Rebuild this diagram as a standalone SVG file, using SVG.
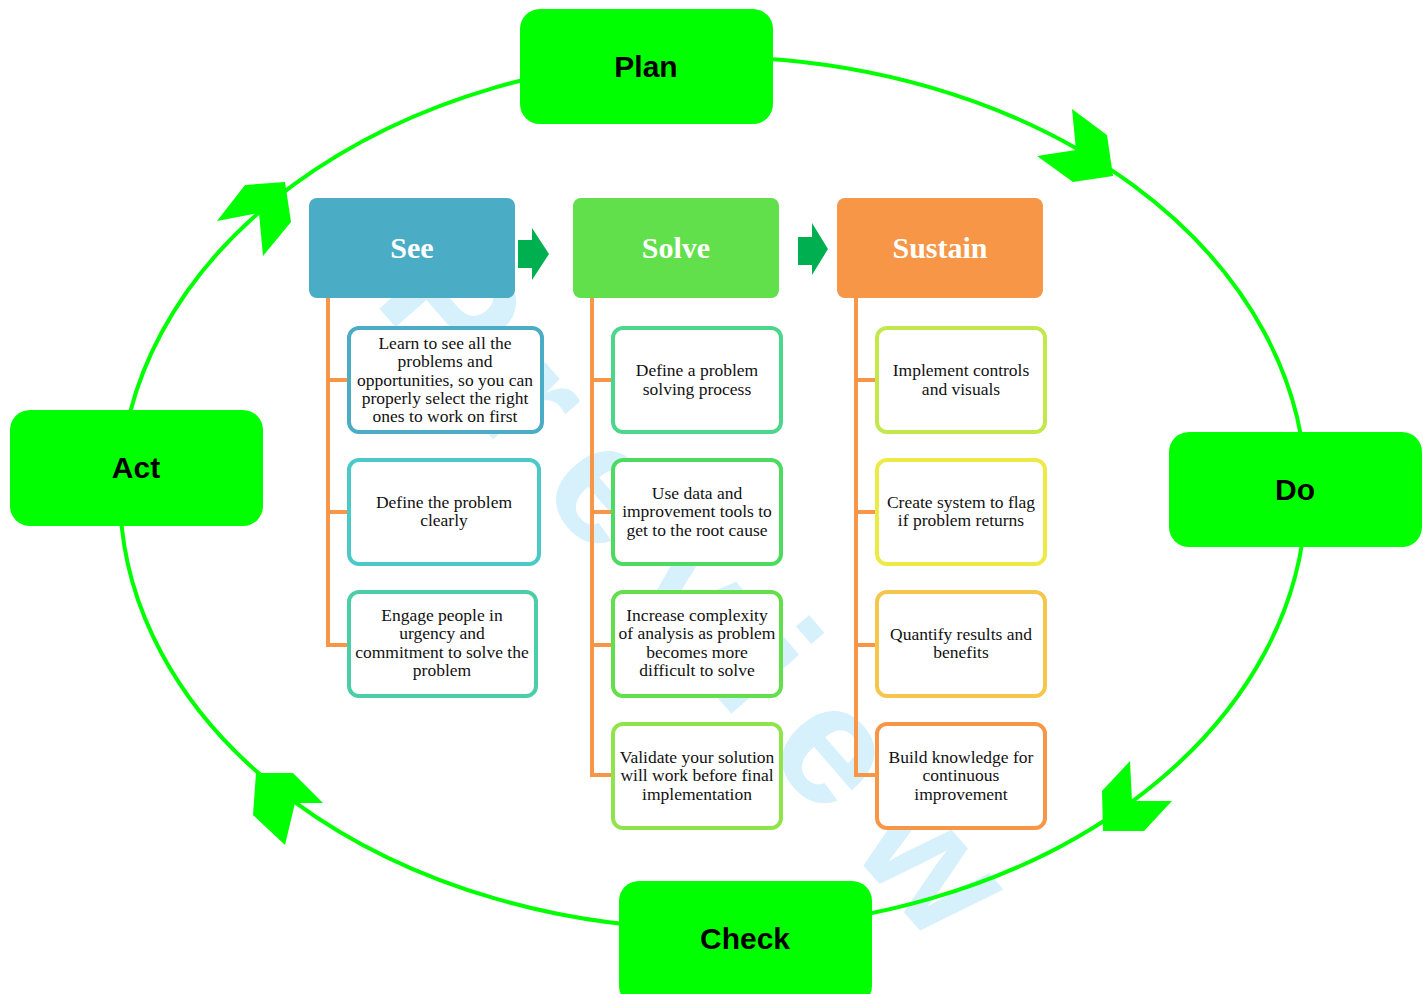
<svg xmlns="http://www.w3.org/2000/svg" width="1423" height="994" viewBox="0 0 1423 994">
<style>
.pdca{fill:#00FF00}
.pdcat{font-family:"Liberation Sans",Arial,sans-serif;font-weight:bold;font-size:30px;fill:#000;text-anchor:middle}
.hdt{font-family:"Liberation Serif","Times New Roman",serif;font-weight:bold;font-size:30px;fill:#fff;text-anchor:middle}
.box{fill:#fff;stroke-width:4}
.bt{font-family:"Liberation Serif","Times New Roman",serif;font-size:17.5px;fill:#111;text-anchor:middle}
.org{stroke:#F79646;stroke-width:4;fill:none}
.cyc{fill:none;stroke:#00FF00;stroke-width:4}
.ah{fill:#00FF00}
.ga{fill:#00B050}
.wm{font-family:"Liberation Sans",Arial,sans-serif;font-weight:bold;font-size:170px;fill:#D6F0FC}
</style>
<rect width="1423" height="994" fill="#fff"/>
<text class="wm" transform="translate(372,300) rotate(49)" letter-spacing="36">Preview</text>
<g id="connectors">
<ellipse class="cyc" cx="713" cy="493" rx="593" ry="436"/>
<polygon class="ah" points="1072,109 1107,135 1113,176 1073,182 1037,156 1076,150"/>
<polygon class="ah" points="245,185 285,182 291,222 263,256 259,213 217,221"/>
<polygon class="ah" points="256,773 293,773 323,803 295,803 285,845 253,815"/>
<polygon class="ah" points="1130,761 1102,791 1103,831 1144,831 1172,801 1132,801"/>
<polygon class="ga" points="518,240 532,240 532,228 549,254 532,280 532,268 518,268"/>
<polygon class="ga" points="798,237 812,237 812,223 828,249 812,275 812,265 798,265"/>
<path class="org" d="M328,298 V645 M326,380 H350 M326,512 H350 M326,645 H350"/>
<path class="org" d="M592,298 V777 M590,380 H614 M590,512 H614 M590,645 H614 M590,775 H614"/>
<path class="org" d="M856,298 V777 M854,380 H878 M854,512 H878 M854,645 H878 M854,775 H878"/>
</g>
<g id="plan"><rect class="pdca" x="520" y="9" width="253" height="115" rx="20"/><text class="pdcat" x="646" y="77">Plan</text></g>
<g id="do"><rect class="pdca" x="1169" y="432" width="253" height="115" rx="20"/><text class="pdcat" x="1295" y="500">Do</text></g>
<g id="check"><rect class="pdca" x="619" y="881" width="253" height="125" rx="20"/><text class="pdcat" x="745" y="949">Check</text></g>
<g id="act"><rect class="pdca" x="10" y="410" width="253" height="116" rx="20"/><text class="pdcat" x="136" y="478">Act</text></g>
<g id="see"><rect x="309" y="198" width="206" height="100" rx="8" fill="#4BACC6"/><text class="hdt" x="412" y="258">See</text></g>
<g id="solve"><rect x="573" y="198" width="206" height="100" rx="8" fill="#62E04B"/><text class="hdt" x="676" y="258">Solve</text></g>
<g id="sustain"><rect x="837" y="198" width="206" height="100" rx="8" fill="#F79646"/><text class="hdt" x="940" y="258">Sustain</text></g>
<g id="see1"><rect class="box" x="349" y="328" width="193" height="104" rx="10" stroke="#4BACC6"/>
<text class="bt"><tspan x="445" y="349">Learn to see all the</tspan><tspan x="445" y="367">problems and</tspan><tspan x="445" y="386">opportunities, so you can</tspan><tspan x="445" y="404">properly select the right</tspan><tspan x="445" y="422">ones to work on first</tspan></text></g>
<g id="see2"><rect class="box" x="349" y="460" width="190" height="104" rx="10" stroke="#4BC8C8"/>
<text class="bt"><tspan x="444" y="508">Define the problem</tspan><tspan x="444" y="526">clearly</tspan></text></g>
<g id="see3"><rect class="box" x="349" y="592" width="187" height="104" rx="10" stroke="#4BCDA8"/>
<text class="bt"><tspan x="442" y="621">Engage people in</tspan><tspan x="442" y="639">urgency and</tspan><tspan x="442" y="658">commitment to solve the</tspan><tspan x="442" y="676">problem</tspan></text></g>
<g id="solve1"><rect class="box" x="613" y="328" width="168" height="104" rx="10" stroke="#4CD68C"/>
<text class="bt"><tspan x="697" y="376">Define a problem</tspan><tspan x="697" y="395">solving process</tspan></text></g>
<g id="solve2"><rect class="box" x="613" y="460" width="168" height="104" rx="10" stroke="#4CDA60"/>
<text class="bt"><tspan x="697" y="499">Use data and</tspan><tspan x="697" y="517">improvement tools to</tspan><tspan x="697" y="536">get to the root cause</tspan></text></g>
<g id="solve3"><rect class="box" x="613" y="592" width="168" height="104" rx="10" stroke="#62DF4B"/>
<text class="bt"><tspan x="697" y="621">Increase complexity</tspan><tspan x="697" y="639">of analysis as problem</tspan><tspan x="697" y="658">becomes more</tspan><tspan x="697" y="676">difficult to solve</tspan></text></g>
<g id="solve4"><rect class="box" x="613" y="724" width="168" height="104" rx="10" stroke="#8FE44B"/>
<text class="bt"><tspan x="697" y="763">Validate your solution</tspan><tspan x="697" y="781">will work before final</tspan><tspan x="697" y="800">implementation</tspan></text></g>
<g id="sustain1"><rect class="box" x="877" y="328" width="168" height="104" rx="10" stroke="#C2E84B"/>
<text class="bt"><tspan x="961" y="376">Implement controls</tspan><tspan x="961" y="395">and visuals</tspan></text></g>
<g id="sustain2"><rect class="box" x="877" y="460" width="168" height="104" rx="10" stroke="#EEEA45"/>
<text class="bt"><tspan x="961" y="508">Create system to flag</tspan><tspan x="961" y="526">if problem returns</tspan></text></g>
<g id="sustain3"><rect class="box" x="877" y="592" width="168" height="104" rx="10" stroke="#F5C64B"/>
<text class="bt"><tspan x="961" y="640">Quantify results and</tspan><tspan x="961" y="658">benefits</tspan></text></g>
<g id="sustain4"><rect class="box" x="877" y="724" width="168" height="104" rx="10" stroke="#F79646"/>
<text class="bt"><tspan x="961" y="763">Build knowledge for</tspan><tspan x="961" y="781">continuous</tspan><tspan x="961" y="800">improvement</tspan></text></g>
</svg>
